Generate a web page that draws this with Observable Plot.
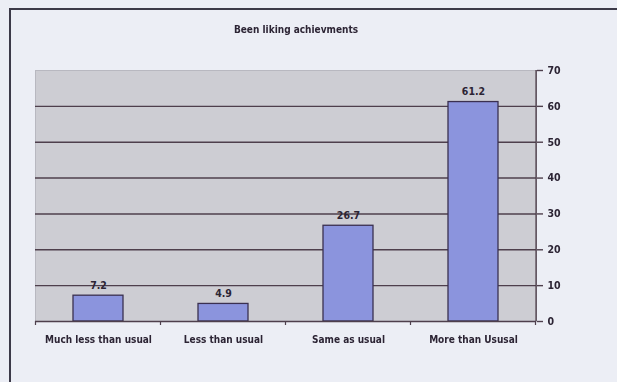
<!DOCTYPE html>
<html>
<head>
<meta charset="utf-8">
<script src="https://cdn.jsdelivr.net/npm/d3@7"></script>
<script src="https://cdn.jsdelivr.net/npm/@observablehq/plot@0.6"></script>
<style>
  html, body { margin: 0; padding: 0; background: #eceef5; overflow: hidden; }
  #wrap { position: relative; width: 617px; height: 382px; overflow: hidden; }
  #border {
    position: absolute; left: 9px; top: 8px; width: 590px; height: 380px;
    border-top: 2px solid #3c3a48; border-left: 2px solid #3c3a48;
    pointer-events: none;
  }
  #border::after {
    content: ""; position: absolute; left: 0; top: -2px; width: 620px; height: 0;
    border-top: 2px solid #3c3a48;
  }
  svg { display: block; filter: blur(0.35px); }
</style>
</head>
<body>
<div id="wrap"><div id="border"></div></div>
<script>
// Responses to "Been liking achievments" (percent)
const title = "Been liking achievments";
const categories = ["Much less than usual", "Less than usual", "Same as usual", "More than Ususal"];
const percents = [7.2, 4.9, 26.7, 61.2];
const yTicks = [0, 10, 20, 30, 40, 50, 60, 70];

const data = categories.map((c, i) => ({category: c, value: percents[i]}));
const font = "'Liberation Sans Narrow', 'DejaVu Sans Condensed', 'Arial Narrow', sans-serif";
const ink = "#2c2434";
const gridInk = "#4e3f4c";

const chart = Plot.plot({
  width: 617,
  height: 382,
  marginLeft: 35,
  marginRight: 81,
  marginTop: 70,
  marginBottom: 61,
  style: {background: "transparent", fontFamily: font, fontWeight: "bold", color: ink},
  x: {domain: categories, paddingInner: 0.6, paddingOuter: 0.3, axis: null},
  y: {domain: [0, 70], axis: null},
  marks: [
    // plot area
    Plot.frame({fill: "#cdcdd3", stroke: "#b8b8c0"}),
    // horizontal gridlines
    Plot.ruleY(yTicks.filter(d => d > 0 && d < 70), {stroke: gridInk, strokeWidth: 1.4}),
    // bars
    Plot.barY(data, {x: "category", y: "value", fill: "#8b94dd", stroke: "#3a3050", strokeWidth: 1.3}),
    // value labels
    Plot.text(data, {x: "category", y: "value", text: d => d.value.toFixed(1), dy: -10,
      fontSize: 10.5, fontWeight: "bold", fill: ink}),
    // category axis
    Plot.ruleY([0], {stroke: gridInk, strokeWidth: 1.6}),
    Plot.axisX({anchor: "bottom", tickSize: 0, tickPadding: 14, fontSize: 10,
      fontWeight: "bold", fill: ink, label: null}),
    // value axis on the right
    Plot.axisY(yTicks, {anchor: "right", tickSize: 6, tickPadding: 5, stroke: gridInk,
      strokeWidth: 1.4, fontSize: 10.5, fontWeight: "bold", fill: ink, label: null}),
    Plot.ruleX([0], {x: () => categories[3], dx: 62.6, y1: 0, y2: 70, stroke: gridInk, strokeWidth: 1.4}),
    // title
    Plot.text([title], {frameAnchor: "top", dx: 10, dy: -45, fontSize: 10, fontWeight: "bold", fill: ink})
  ]
});

// tick marks between categories along the baseline
const xs = chart.scale("x");
const ys = chart.scale("y");
const y0 = ys.apply(0);
const step = xs.step;
const first = xs.apply(categories[0]) - (step - xs.bandwidth) / 2;
const g = d3.select(chart).append("g").attr("stroke", gridInk).attr("stroke-width", 1.2);
for (let i = 0; i <= categories.length; i++) {
  const x = first + i * step;
  g.append("line").attr("x1", x).attr("x2", x).attr("y1", y0).attr("y2", y0 + 4);
}

document.getElementById("wrap").prepend(chart);
</script>
</body>
</html>
